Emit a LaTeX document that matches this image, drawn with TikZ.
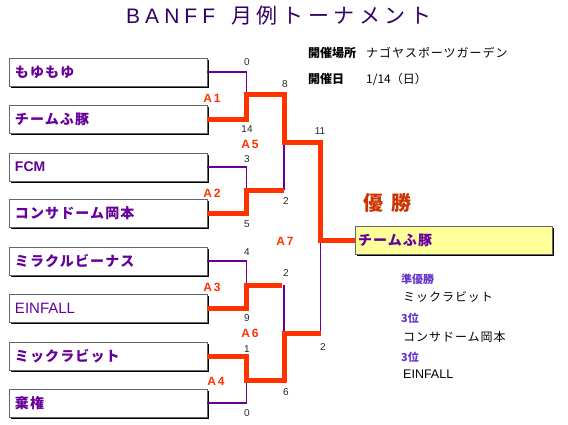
\documentclass[tikz,border=0pt]{standalone}
\usepackage{fontspec}
\setmainfont{Liberation Sans}
\newfontfamily\jp{Noto Sans CJK JP}
\newfontfamily\jps[LetterSpace=8]{Noto Sans CJK JP}
\newfontfamily\jpt[LetterSpace=22]{Noto Sans CJK JP}
\newfontfamily\latt[LetterSpace=24]{Liberation Sans}
\newfontfamily\labf[LetterSpace=15]{Liberation Sans}
\usetikzlibrary{shadows}
\definecolor{tpurple}{HTML}{660099}
\definecolor{ttitle}{HTML}{330066}
\definecolor{tred}{HTML}{FF3300}
\definecolor{twin}{HTML}{CC3300}
\definecolor{tres}{HTML}{6633CC}
\definecolor{tyellow}{HTML}{FFFF99}
\tikzset{
  team/.style={draw=black!60, line width=0.8pt, fill=white,
    minimum width=198pt, minimum height=28pt, text width=186pt,
    inner xsep=6pt, inner ysep=0pt, align=left,
    font=\fontsize{14}{16}\selectfont\bfseries, text=tpurple,
    drop shadow={opacity=1, fill=black, shadow xshift=1.8pt, shadow yshift=-1.8pt}},
  los/.style={draw=tpurple, line width=1.3pt},
  wins/.style={draw=tred, line width=5pt, line join=miter},
  score/.style={font=\fontsize{10}{12}\selectfont, text=black!85, inner sep=0pt},
  mlab/.style={font=\fontsize{12}{14}\selectfont\bfseries\labf, text=tred, inner sep=0pt},
  info/.style={font=\fontsize{12}{14}\selectfont, anchor=west, inner sep=0pt},
  res/.style={font=\fontsize{11}{13}\selectfont\bfseries\jp, text=tres, anchor=west, inner sep=0pt},
  resn/.style={font=\fontsize{12.5}{14}\selectfont, text=black, anchor=west, inner sep=0pt}
}
\begin{document}
\begin{tikzpicture}[x=1pt,y=-1pt]
\useasboundingbox (0,0) rectangle (568,424);
% title
\node[inner sep=0pt, anchor=west, text=ttitle, font=\fontsize{21}{24}\selectfont] (title) at (126,16)
  {{\latt BANFF}\kern16pt{\jpt 月例トーナメント}};
% info
\node[info, font=\fontsize{12}{14}\selectfont\bfseries\jp] (i1) at (308,53) {開催場所};
\node[info, font=\fontsize{12}{14}\selectfont\jps] (i2) at (366,53) {ナゴヤスポーツガーデン};
\node[info, font=\fontsize{12}{14}\selectfont\bfseries\jp] (i3) at (308,79) {開催日};
\node[info, font=\fontsize{12}{14}\selectfont\jp] (i4) at (366,79) {1/14（日）};
% teams
\node[team] (b1) at (108,72) {\jps もゆもゆ};
\node[team] (b2) at (108,119) {\jps チームふ豚};
\node[team] (b3) at (108,167) {FCM};
\node[team] (b4) at (108,213) {\jps コンサドーム岡本};
\node[team] (b5) at (108,261) {\jps ミラクルビーナス};
\node[team] (b6) at (108,308) {\mdseries\fontsize{15}{16}\selectfont EINFALL};
\node[team] (b7) at (108,356) {\jps ミックラビット};
\node[team] (b8) at (108,403) {\jps 棄権};
% champion
\node[team, fill=tyellow, minimum width=197pt, text width=191pt, inner xsep=3pt] (champ) at (453.5,240.5) {\jps チームふ豚};
\node[inner sep=0pt, text=twin, font=\fontsize{20}{22}\selectfont\bfseries\jp] (yusho) at (387,203) {優\hspace{8pt}勝};
% junctions
\coordinate (q1) at (246.5,94);
\coordinate (q2) at (246.5,190);
\coordinate (q3) at (246.5,285);
\coordinate (q4) at (246.5,380);
\coordinate (s1) at (284,142);
\coordinate (s2) at (284,333);
\coordinate (f) at (320.5,240.5);
% losers
\draw[los] (b1.east) -| (q1);
\draw[los] (b3.east) -| (q2);
\draw[los] (b5.east) -| (q3);
\draw[los] (b8.east) -| (q4);
\draw[los] (q2 -| s1) -- (s1);
\draw[los] (q3 -| s2) -- (s2);
\draw[los] (s2 -| f) -- (f);
% winners
\draw[wins] (b2.east) -| (q1) -- (q1 -| s1) -- (s1) -- (s1 -| f) -- (f) -- (champ.west);
\draw[wins] (b4.east) -| (q2) -- (q2 -| s1);
\draw[wins] (b6.east) -| (q3) -- ([xshift=-2pt]q3 -| s2);
\draw[wins] (b7.east) -| (q4) -- (q4 -| s2) -- (s2) -- (s2 -| f);
% scores
\node[score] (c1) at (247,62) {0};
\node[score] (c2) at (247,129) {14};
\node[score] (c3) at (247,159) {3};
\node[score] (c4) at (247,224) {5};
\node[score] (c5) at (247,252) {4};
\node[score] (c6) at (247,318) {9};
\node[score] (c7) at (247,349) {1};
\node[score] (c8) at (247,413) {0};
\node[score] (c9) at (285,84) {8};
\node[score] (c10) at (286,201) {2};
\node[score] (c11) at (286,273) {2};
\node[score] (c12) at (286,392) {6};
\node[score] (c13) at (320,131) {11};
\node[score] (c14) at (323,347) {2};
% match labels
\node[mlab] (a1) at (212,98) {A1};
\node[mlab] (a2) at (212,193) {A2};
\node[mlab] (a3) at (212,287) {A3};
\node[mlab] (a4) at (216,381) {A4};
\node[mlab] (a5) at (250,144) {A5};
\node[mlab] (a6) at (250,333) {A6};
\node[mlab] (a7) at (285,241) {A7};
% results
\node[res] (r1) at (401,279) {準優勝};
\node[resn, font=\fontsize{12}{14}\selectfont\jps] (r2) at (403,297) {ミックラビット};
\node[res] (r3) at (401,318) {3位};
\node[resn, font=\fontsize{12}{14}\selectfont\jps] (r4) at (403,337) {コンサドーム岡本};
\node[res] (r5) at (401,357) {3位};
\node[resn] (r6) at (403,374) {EINFALL};
\end{tikzpicture}
\end{document}
